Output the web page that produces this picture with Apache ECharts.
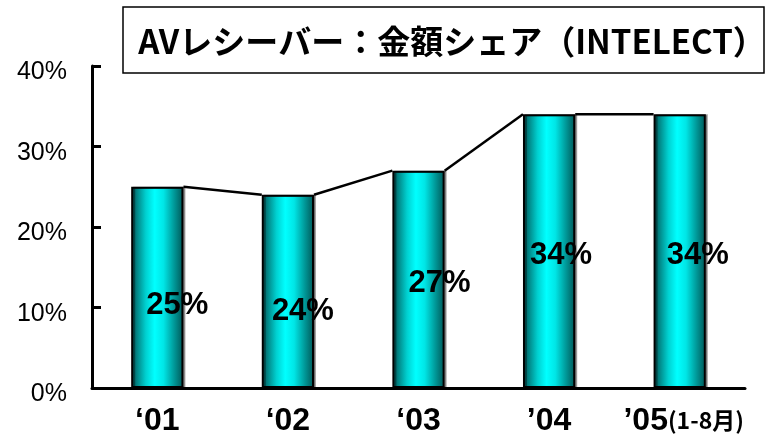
<!DOCTYPE html>
<html>
<head>
<meta charset="utf-8">
<script src="https://cdn.jsdelivr.net/npm/echarts@6/dist/echarts.min.js"></script>
<style>
  html, body { margin: 0; padding: 0; background: #fff; }
  #chart { width: 766px; height: 437px; }
</style>
</head>
<body>
<div id="chart"></div>
<script>
// Market share by value, AV receivers (INTELECT)
const titleText = 'AVレシーバー：金額シェア（INTELECT）';
const years = ['‘01', '‘02', '‘03', '’04', '’05'];
const periodNote = '(1-8月)';          // appended to the last year
const sharePct = [25, 24, 27, 34, 34];  // %
const yTicks = [0, 10, 20, 30, 40];     // %

// Per-bar label nudges [dx, dy] in px (layout only)
const labelNudge = [[20, 18], [15, 20], [21, 4], [12, 4], [18, 4]];

const BAR_RATIO = 0.4;
const last = years.length - 1;

const barGradient = new echarts.graphic.LinearGradient(0, 0, 1, 0, [
  { offset: 0.00, color: '#004c4c' },
  { offset: 0.10, color: '#008080' },
  { offset: 0.28, color: '#00d0d0' },
  { offset: 0.45, color: '#00ffff' },
  { offset: 0.62, color: '#00e6e6' },
  { offset: 0.82, color: '#009999' },
  { offset: 1.00, color: '#005555' }
]);

const barData = sharePct.map((v, i) => ({
  value: v,
  label: { offset: labelNudge[i] }
}));

// connector segments from the top-right corner of one bar to the top-left of the next
const linkData = sharePct.slice(0, -1).map((v, i) => [i, v, sharePct[i + 1]]);

const chart = echarts.init(document.getElementById('chart'), null, { renderer: 'canvas' });

const boldLatin = '"Liberation Sans", Arial, sans-serif';

chart.setOption({
  backgroundColor: '#ffffff',
  animation: false,
  grid: { left: 92, right: 21, top: 66, bottom: 47, containLabel: false },
  graphic: [
    {
      type: 'rect',
      shape: { x: 123, y: 7, width: 641, height: 66 },
      style: { fill: '#ffffff', stroke: '#000', lineWidth: 1.5 },
      z: 10
    },
    {
      type: 'text',
      x: 452, y: 41,
      style: {
        text: titleText,
        align: 'center',
        verticalAlign: 'middle',
        fill: '#000',
        font: 'bold 33px "Noto Sans CJK JP", sans-serif'
      },
      z: 11
    }
  ],
  xAxis: {
    type: 'category',
    data: years,
    boundaryGap: true,
    axisLine: { lineStyle: { color: '#000', width: 3 } },
    axisTick: { inside: true, length: 6, lineStyle: { color: '#000', width: 2 } },
    axisLabel: {
      margin: 15,
      color: '#000',
      formatter: (v, i) => i === last ? `{y5|${v}}{n|${periodNote}}` : `{y|${v}}`,
      rich: {
        y: { fontFamily: boldLatin, fontWeight: 'bold', fontSize: 32, lineHeight: 34, verticalAlign: 'bottom', color: '#000' },
        y5: { fontFamily: boldLatin, fontWeight: 'bold', fontSize: 32, lineHeight: 34, verticalAlign: 'bottom', color: '#000', padding: [0, 0, 0, 8] },
        n: { fontFamily: '"Noto Sans CJK JP", sans-serif', fontWeight: 'bold', fontSize: 23, lineHeight: 34, verticalAlign: 'bottom', color: '#000', padding: [0, 0, 5, 0] }
      }
    },
    splitLine: { show: false }
  },
  yAxis: {
    type: 'value',
    min: 0,
    max: 40,
    interval: 10,
    axisLine: { show: true, lineStyle: { color: '#000', width: 3 } },
    axisTick: { show: true, inside: true, length: 9, lineStyle: { color: '#000', width: 3 } },
    splitLine: { show: false },
    axisLabel: {
      margin: 25,
      color: '#000',
      fontFamily: '"Liberation Sans", Arial, sans-serif',
      fontSize: 25,
      verticalAlign: 'top',
      lineHeight: 13,
      formatter: v => yTicks.includes(v) ? v + '%' : ''
    }
  },
  series: [
    {
      type: 'bar',
      data: barData,
      barWidth: (BAR_RATIO * 100) + '%',
      itemStyle: {
        color: barGradient,
        borderColor: '#000',
        borderWidth: 2,
        shadowColor: 'rgba(0,0,0,0.35)',
        shadowOffsetX: 2,
        shadowBlur: 0
      },
      label: {
        show: true,
        position: 'inside',
        formatter: '{c}%',
        color: '#000',
        fontFamily: boldLatin,
        fontWeight: 'bold',
        fontSize: 31
      },
      z: 2
    },
    {
      type: 'custom',
      data: linkData,
      encode: { x: 0, y: 1 },
      renderItem: (params, api) => {
        const i = api.value(0);
        const a = api.coord([i, api.value(1)]);
        const b = api.coord([i + 1, api.value(2)]);
        const half = api.size([1, 0])[0] * BAR_RATIO / 2;
        return {
          type: 'line',
          shape: { x1: a[0] + half, y1: a[1], x2: b[0] - half, y2: b[1] },
          style: { stroke: '#000', lineWidth: 2.5, fill: null }
        };
      },
      z: 3
    }
  ]
});
</script>
</body>
</html>
